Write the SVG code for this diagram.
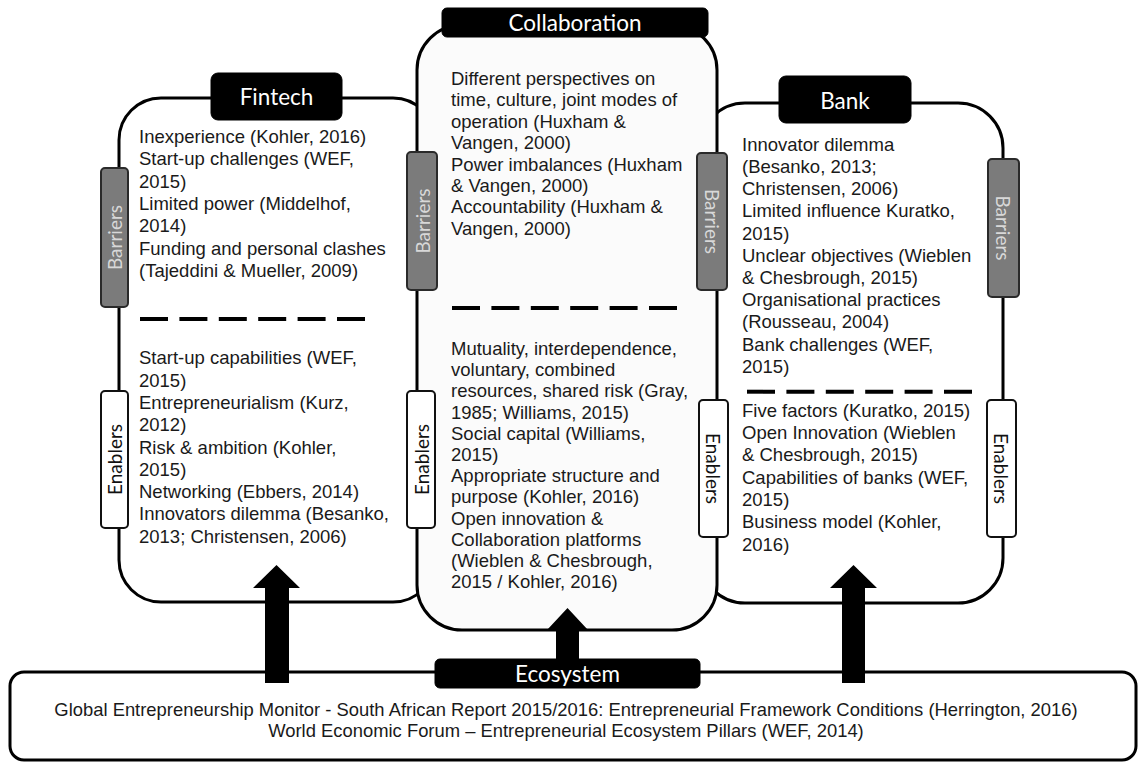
<svg xmlns="http://www.w3.org/2000/svg" width="1138" height="762" viewBox="0 0 1138 762">
<defs>
<style>
.frame{fill:#ffffff;stroke:#000;stroke-width:3}
.collab{fill:#fbfbfb;stroke:#000;stroke-width:3}
.hdr{fill:#000;stroke:#000;stroke-width:1}
.hdrtxt{font-family:Lato,"Open Sans",sans-serif;font-size:22.5px;fill:#fff;text-anchor:middle}
.body{font-family:"Liberation Sans",Arial,sans-serif;font-size:18.5px;fill:#1a1a1a}
.foot{font-family:"Liberation Sans",Arial,sans-serif;font-size:18.4px;fill:#1a1a1a;text-anchor:middle}
.bar{fill:#7b7b7b;stroke:#2a2a2a;stroke-width:2}
.en{fill:#fff;stroke:#111;stroke-width:2}
.bartxt{font-family:Lato,"Open Sans",sans-serif;font-size:19px;fill:#d8d8d8;text-anchor:middle;dominant-baseline:central}
.entxt{font-family:Lato,"Open Sans",sans-serif;font-size:19px;fill:#111;text-anchor:middle;dominant-baseline:central}
.dash{stroke:#000;stroke-width:4;stroke-dasharray:28 11.4;fill:none}
.arrow{fill:#000}
</style>
</defs>
<rect width="1138" height="762" fill="#fff"/>

<g id="fintech">
<rect class="frame" x="119" y="98" width="316" height="504" rx="42"/>
</g>
<g id="bank">
<rect class="frame" x="700" y="103" width="303" height="500" rx="45"/>
</g>
<g id="collaboration">
<rect class="collab" x="417" y="25" width="300" height="605" rx="45"/>
</g>

<g id="ecosystem">
<rect class="frame" x="10" y="672" width="1126" height="88" rx="14"/>
<text class="foot" x="566" y="716">Global Entrepreneurship Monitor - South African Report 2015/2016: Entrepreneurial Framework Conditions (Herrington, 2016)</text>
<text class="foot" x="566" y="737">World Economic Forum – Entrepreneurial Ecosystem Pillars (WEF, 2014)</text>
</g>

<g id="connectors">
<polygon class="arrow" points="265,683 265,588 253,588 276.5,565 300,588 289,588 289,683"/>
<polygon class="arrow" points="842,683 842,588 830,588 853.5,565 877,588 865,588 865,683"/>
<polygon class="arrow" points="556,662 556,630 547,630 567.5,608 588,630 579,630 579,662"/>
</g>

<g id="fintech-content">
<rect class="hdr" x="211" y="73" width="131" height="47" rx="7"/>
<text class="hdrtxt" x="276.5" y="105">Fintech</text>
<text class="body" x="139" y="143">
<tspan x="139">Inexperience (Kohler, 2016)</tspan>
<tspan x="139" dy="22.3">Start-up challenges (WEF,</tspan>
<tspan x="139" dy="22.3">2015)</tspan>
<tspan x="139" dy="22.3">Limited power (Middelhof,</tspan>
<tspan x="139" dy="22.3">2014)</tspan>
<tspan x="139" dy="22.3">Funding and personal clashes</tspan>
<tspan x="139" dy="22.3">(Tajeddini &amp; Mueller, 2009)</tspan>
</text>
<line class="dash" x1="140" y1="319" x2="365" y2="319"/>
<text class="body" x="139" y="364.3">
<tspan x="139">Start-up capabilities (WEF,</tspan>
<tspan x="139" dy="22.3">2015)</tspan>
<tspan x="139" dy="22.3">Entrepreneurialism (Kurz,</tspan>
<tspan x="139" dy="22.3">2012)</tspan>
<tspan x="139" dy="22.3">Risk &amp; ambition (Kohler,</tspan>
<tspan x="139" dy="22.3">2015)</tspan>
<tspan x="139" dy="22.3">Networking (Ebbers, 2014)</tspan>
<tspan x="139" dy="22.3">Innovators dilemma (Besanko,</tspan>
<tspan x="139" dy="22.3">2013; Christensen, 2006)</tspan>
</text>
</g>

<g id="collaboration-content">
<rect class="hdr" x="442" y="8" width="266" height="29" rx="5"/>
<text class="hdrtxt" x="575" y="31">Collaboration</text>
<text class="body" x="451" y="85">
<tspan x="451">Different perspectives on</tspan>
<tspan x="451" dy="21.4">time, culture, joint modes of</tspan>
<tspan x="451" dy="21.4">operation (Huxham &amp;</tspan>
<tspan x="451" dy="21.4">Vangen, 2000)</tspan>
<tspan x="451" dy="21.4">Power imbalances (Huxham</tspan>
<tspan x="451" dy="21.4">&amp; Vangen, 2000)</tspan>
<tspan x="451" dy="21.4">Accountability (Huxham &amp;</tspan>
<tspan x="451" dy="21.4">Vangen, 2000)</tspan>
</text>
<line class="dash" x1="452" y1="308" x2="677" y2="308"/>
<text class="body" x="451" y="355">
<tspan x="451">Mutuality, interdependence,</tspan>
<tspan x="451" dy="21.2">voluntary, combined</tspan>
<tspan x="451" dy="21.2">resources, shared risk (Gray,</tspan>
<tspan x="451" dy="21.2">1985; Williams, 2015)</tspan>
<tspan x="451" dy="21.2">Social capital (Williams,</tspan>
<tspan x="451" dy="21.2">2015)</tspan>
<tspan x="451" dy="21.2">Appropriate structure and</tspan>
<tspan x="451" dy="21.2">purpose (Kohler, 2016)</tspan>
<tspan x="451" dy="21.2">Open innovation &amp;</tspan>
<tspan x="451" dy="21.2">Collaboration platforms</tspan>
<tspan x="451" dy="21.2">(Wieblen &amp; Chesbrough,</tspan>
<tspan x="451" dy="21.2">2015 / Kohler, 2016)</tspan>
</text>
</g>

<g id="bank-content">
<rect class="hdr" x="779" y="76" width="132" height="47" rx="7"/>
<text class="hdrtxt" x="845" y="109">Bank</text>
<text class="body" x="742" y="150.7">
<tspan x="742">Innovator dilemma</tspan>
<tspan x="742" dy="22.2">(Besanko, 2013;</tspan>
<tspan x="742" dy="22.2">Christensen, 2006)</tspan>
<tspan x="742" dy="22.2">Limited influence Kuratko,</tspan>
<tspan x="742" dy="22.2">2015)</tspan>
<tspan x="742" dy="22.2">Unclear objectives (Wieblen</tspan>
<tspan x="742" dy="22.2">&amp; Chesbrough, 2015)</tspan>
<tspan x="742" dy="22.2">Organisational practices</tspan>
<tspan x="742" dy="22.2">(Rousseau, 2004)</tspan>
<tspan x="742" dy="22.2">Bank challenges (WEF,</tspan>
<tspan x="742" dy="22.2">2015)</tspan>
</text>
<line class="dash" x1="747" y1="391.7" x2="972" y2="391.7"/>
<text class="body" x="742" y="416.7">
<tspan x="742">Five factors (Kuratko, 2015)</tspan>
<tspan x="742" dy="22.3">Open Innovation (Wieblen</tspan>
<tspan x="742" dy="22.3">&amp; Chesbrough, 2015)</tspan>
<tspan x="742" dy="22.3">Capabilities of banks (WEF,</tspan>
<tspan x="742" dy="22.3">2015)</tspan>
<tspan x="742" dy="22.3">Business model (Kohler,</tspan>
<tspan x="742" dy="22.3">2016)</tspan>
</text>
</g>

<g id="ecosystem-label">
<rect class="hdr" x="435" y="659" width="265" height="29" rx="5"/>
<text class="hdrtxt" x="567.5" y="682">Ecosystem</text>
</g>

<g id="barriers-fintech">
<rect class="bar" x="101" y="168" width="27" height="139" rx="4"/>
<text class="bartxt" transform="translate(114.5,237.5) rotate(-90)">Barriers</text>
</g>
<g id="barriers-collab-left">
<rect class="bar" x="407" y="152" width="30" height="138" rx="4"/>
<text class="bartxt" transform="translate(422,221) rotate(-90)">Barriers</text>
</g>
<g id="barriers-collab-right">
<rect class="bar" x="697" y="153" width="30" height="137" rx="4"/>
<text class="bartxt" transform="translate(712,221.5) rotate(90)">Barriers</text>
</g>
<g id="barriers-bank">
<rect class="bar" x="988" y="159" width="31" height="138" rx="4"/>
<text class="bartxt" transform="translate(1003.5,228) rotate(90)">Barriers</text>
</g>
<g id="enablers-fintech">
<rect class="en" x="101" y="391" width="27" height="137" rx="4"/>
<text class="entxt" transform="translate(114.5,459.5) rotate(-90)">Enablers</text>
</g>
<g id="enablers-collab-left">
<rect class="en" x="407" y="391" width="28" height="137" rx="4"/>
<text class="entxt" transform="translate(421,459.5) rotate(-90)">Enablers</text>
</g>
<g id="enablers-collab-right">
<rect class="en" x="699" y="400" width="29" height="137" rx="4"/>
<text class="entxt" transform="translate(713.5,468.5) rotate(90)">Enablers</text>
</g>
<g id="enablers-bank">
<rect class="en" x="987" y="400" width="29" height="137" rx="4"/>
<text class="entxt" transform="translate(1001.5,468.5) rotate(90)">Enablers</text>
</g>
</svg>
